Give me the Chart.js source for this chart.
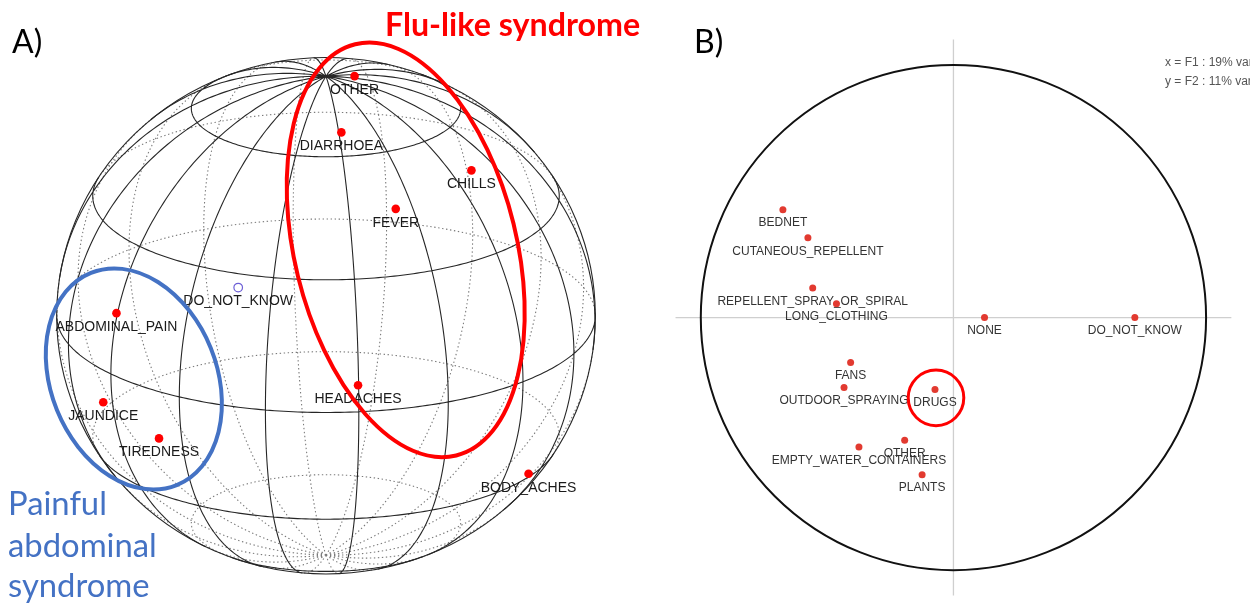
<!DOCTYPE html>
<html>
<head>
<meta charset="utf-8">
<script src="https://cdn.jsdelivr.net/npm/chart.js@4"></script>
<style>
    html, body { margin: 0; padding: 0; background: #fff; }
    #wrap { position: relative; width: 1250px; height: 605px; overflow: hidden; }
    canvas { position: absolute; top: 0; }
    #sphereChart { left: 0; }
    #circleChart { left: 645px; }
</style>
</head>
<body>
<div id="wrap">
    <canvas id="sphereChart" width="645" height="605"></canvas>
    <canvas id="circleChart" width="605" height="605"></canvas>
</div>
<script>
// Panel A: symptoms projected on the sphere (sphere radius = 1)
const symptomLabels = ['OTHER', 'DIARRHOEA', 'CHILLS', 'FEVER', 'DO_NOT_KNOW', 'ABDOMINAL_PAIN', 'JAUNDICE', 'TIREDNESS', 'HEADACHES', 'BODY_ACHES'];
const symptomX = [0.106, 0.057, 0.540, 0.259, -0.326, -0.778, -0.827, -0.620, 0.119, 0.752];
const symptomY = [0.928, 0.710, 0.563, 0.414, 0.109, 0.010, -0.335, -0.475, -0.269, -0.612];
const symptomHollow = [false, false, false, false, true, false, false, false, false, false];

// Panel B: prevention measures on the correlation circle (F1 x F2)
const measureLabels = ['BEDNET', 'CUTANEOUS_REPELLENT', 'REPELLENT_SPRAY_OR_SPIRAL', 'LONG_CLOTHING', 'NONE', 'DO_NOT_KNOW', 'FANS', 'OUTDOOR_SPRAYING', 'DRUGS', 'OTHER', 'EMPTY_WATER_CONTAINERS', 'PLANTS'];
const measureF1 = [-0.675, -0.576, -0.557, -0.463, 0.123, 0.718, -0.407, -0.433, -0.073, -0.193, -0.374, -0.124];
const measureF2 = [0.427, 0.316, 0.117, 0.055, 0.000, 0.000, -0.178, -0.277, -0.285, -0.486, -0.512, -0.622];

// sphere grid: latitudes and longitudes (degrees), tilt of the pole toward the viewer
const gridParallels = [-60, -30, 0, 30, 60];
const gridMeridians = [7, 27, 47, 67, 87, 107, 127, 147, 167, 187, 207, 227, 247, 267, 287, 307, 327, 347];

function fitFont(ctx, text, weight, family, width) {
    ctx.font = weight + ' 100px ' + family;
    const size = 100 * width / ctx.measureText(text).width;
    return weight + ' ' + size.toFixed(1) + 'px ' + family;
}

// wire-frame sphere, front lines solid and back lines dotted
const sphereGrid = {
    id: 'sphereGrid',
    beforeDatasetsDraw(chart, args, opts) {
        const ctx = chart.ctx;
        const xs = chart.scales.x, ys = chart.scales.y;
        const rad = Math.PI / 180;
        const t = opts.tilt * rad;

        function project(lat, lon) {
            const X = Math.cos(lat) * Math.sin(lon);
            const Y = Math.sin(lat);
            const Z = Math.cos(lat) * Math.cos(lon);
            return {
                x: xs.getPixelForValue(X),
                y: ys.getPixelForValue(Y * Math.cos(t) - Z * Math.sin(t)),
                front: Y * Math.sin(t) + Z * Math.cos(t) >= 0
            };
        }

        const curves = [];
        opts.parallels.forEach(lat => {
            const pts = [];
            for (let i = 0; i <= 360; i += 1) pts.push(project(lat * rad, i * rad));
            curves.push(pts);
        });
        opts.meridians.forEach(lon => {
            const pts = [];
            for (let i = -90; i <= 90; i += 1) pts.push(project(i * rad, lon * rad));
            curves.push(pts);
        });

        function strokeSide(front) {
            ctx.beginPath();
            curves.forEach(pts => {
                let pen = false;
                for (let i = 1; i < pts.length; i++) {
                    const a = pts[i - 1], b = pts[i];
                    if (a.front === front) {
                        if (!pen) { ctx.moveTo(a.x, a.y); pen = true; }
                        ctx.lineTo(b.x, b.y);
                    } else {
                        pen = false;
                    }
                }
            });
            ctx.stroke();
        }

        ctx.save();
        ctx.lineWidth = 1.1;
        ctx.strokeStyle = '#7a7a7a';
        ctx.setLineDash([1.4, 2.6]);
        strokeSide(false);
        ctx.setLineDash([]);
        ctx.lineWidth = 1.1;
        ctx.strokeStyle = '#262626';
        strokeSide(true);

        // outline
        const cx = xs.getPixelForValue(0), cy = ys.getPixelForValue(0);
        ctx.beginPath();
        ctx.ellipse(cx, cy, xs.getPixelForValue(1) - cx, cy - ys.getPixelForValue(1), 0, 0, Math.PI * 2);
        ctx.stroke();
        ctx.restore();
    }
};

// unit circle and axes of the correlation plot
const corrCircle = {
    id: 'corrCircle',
    beforeDatasetsDraw(chart, args, opts) {
        const ctx = chart.ctx;
        const xs = chart.scales.x, ys = chart.scales.y;
        const cx = xs.getPixelForValue(0), cy = ys.getPixelForValue(0);
        ctx.save();
        ctx.strokeStyle = '#cfcfcf';
        ctx.lineWidth = 1.3;
        ctx.beginPath();
        ctx.moveTo(cx, ys.getPixelForValue(opts.axisLength));
        ctx.lineTo(cx, ys.getPixelForValue(-opts.axisLength));
        ctx.moveTo(xs.getPixelForValue(-opts.axisLength), cy);
        ctx.lineTo(xs.getPixelForValue(opts.axisLength), cy);
        ctx.stroke();
        ctx.strokeStyle = '#111';
        ctx.lineWidth = 2;
        ctx.beginPath();
        ctx.ellipse(cx, cy, xs.getPixelForValue(1) - cx, cy - ys.getPixelForValue(1), 0, 0, Math.PI * 2);
        ctx.stroke();
        ctx.restore();
    }
};

// text under every point
const pointLabels = {
    id: 'pointLabels',
    afterDatasetsDraw(chart, args, opts) {
        const ctx = chart.ctx;
        const meta = chart.getDatasetMeta(0);
        ctx.save();
        ctx.font = opts.font;
        ctx.fillStyle = opts.color;
        ctx.textAlign = 'center';
        ctx.textBaseline = 'middle';
        meta.data.forEach((pt, i) => {
            ctx.fillText(opts.labels[i], pt.x, pt.y + opts.offset);
        });
        ctx.restore();
    }
};

// hand-drawn group ellipses (centre in data units, radii in x units)
const groupRings = {
    id: 'groupRings',
    afterDraw(chart, args, opts) {
        const ctx = chart.ctx;
        const xs = chart.scales.x, ys = chart.scales.y;
        const unit = xs.getPixelForValue(1) - xs.getPixelForValue(0);
        ctx.save();
        opts.rings.forEach(r => {
            ctx.strokeStyle = r.color;
            ctx.lineWidth = r.width;
            ctx.beginPath();
            ctx.ellipse(xs.getPixelForValue(r.x), ys.getPixelForValue(r.y), r.rx * unit, r.ry * unit, r.rotation * Math.PI / 180, 0, Math.PI * 2);
            ctx.stroke();
        });
        ctx.restore();
    }
};

// panel letters and annotations
const notes = {
    id: 'notes',
    afterDraw(chart, args, opts) {
        const ctx = chart.ctx;
        ctx.save();
        ctx.textAlign = 'left';
        ctx.textBaseline = 'alphabetic';
        opts.items.forEach(n => {
            ctx.font = n.fit ? fitFont(ctx, n.fit, n.weight, n.family, n.width) : n.font;
            ctx.fillStyle = n.color;
            ctx.fillText(n.text, n.x, n.y);
        });
        ctx.restore();
    }
};

const hidden = { type: 'linear', display: false };

// Panel A chart
const sphereChart = new Chart(document.getElementById('sphereChart').getContext('2d'), {
    type: 'scatter',
    data: {
        datasets: [{
            data: symptomX.map((v, i) => ({ x: v, y: symptomY[i] })),
            pointRadius: 4.3,
            pointBackgroundColor: symptomHollow.map(h => h ? 'rgba(0,0,0,0)' : '#ff0000'),
            pointBorderColor: symptomHollow.map(h => h ? '#6d5fd6' : '#ff0000'),
            pointBorderWidth: symptomHollow.map(h => h ? 1.2 : 0)
        }]
    },
    options: {
        responsive: false,
        animation: false,
        layout: { padding: 0 },
        scales: {
            x: { ...hidden, min: -1.190, max: 1.164 },
            y: { ...hidden, min: -1.099, max: 1.2015 }
        },
        plugins: {
            legend: { display: false },
            tooltip: { enabled: false },
            sphereGrid: { tilt: 22, parallels: gridParallels, meridians: gridMeridians },
            pointLabels: { labels: symptomLabels, font: '14px "Liberation Sans", Arial, sans-serif', color: '#1a1a1a', offset: 14 },
            groupRings: {
                rings: [
                    { x: 0.296, y: 0.255, rx: 0.412, ry: 0.786, rotation: -13.8, color: '#ff0000', width: 4 },
                    { x: -0.7135, y: -0.245, rx: 0.308, ry: 0.425, rotation: -22, color: '#4472c4', width: 4 }
                ]
            },
            notes: {
                items: [
                    { text: 'A)', x: 12, y: 53, font: '32px Lato, sans-serif', color: '#000' },
                    { text: 'Flu-like syndrome', x: 385, y: 36, fit: 'Flu-like syndrome', weight: 'bold', family: 'Lato, sans-serif', width: 255, color: '#ff0000' },
                    { text: 'Painful', x: 8, y: 515, fit: 'abdominal', weight: 'normal', family: 'Lato, sans-serif', width: 149, color: '#4472c4' },
                    { text: 'abdominal', x: 8, y: 556.7, fit: 'abdominal', weight: 'normal', family: 'Lato, sans-serif', width: 149, color: '#4472c4' },
                    { text: 'syndrome', x: 8, y: 596.7, fit: 'abdominal', weight: 'normal', family: 'Lato, sans-serif', width: 149, color: '#4472c4' }
                ]
            }
        }
    },
    plugins: [sphereGrid, pointLabels, groupRings, notes]
});

// Panel B chart
const circleChart = new Chart(document.getElementById('circleChart').getContext('2d'), {
    type: 'scatter',
    data: {
        datasets: [{
            data: measureF1.map((v, i) => ({ x: v, y: measureF2[i] })),
            pointRadius: 3.5,
            pointBackgroundColor: '#e23a30',
            pointBorderWidth: 0
        }]
    },
    options: {
        responsive: false,
        animation: false,
        layout: { padding: 0 },
        scales: {
            x: { ...hidden, min: -1.205, max: 1.158 },
            y: { ...hidden, min: -1.122, max: 1.241 }
        },
        plugins: {
            legend: { display: false },
            tooltip: { enabled: false },
            corrCircle: { axisLength: 1.1 },
            pointLabels: { labels: measureLabels, font: '12px "Liberation Sans", Arial, sans-serif', color: '#333', offset: 13.5 },
            groupRings: {
                rings: [
                    { x: -0.069, y: -0.318, rx: 0.110, ry: 0.110, rotation: 0, color: '#ff0000', width: 3 }
                ]
            },
            notes: {
                items: [
                    { text: 'B)', x: 49, y: 53, font: '32px Lato, sans-serif', color: '#000' },
                    { text: 'x = F1 : 19% variance', x: 520, y: 66, font: '12px "Liberation Sans", Arial, sans-serif', color: '#555' },
                    { text: 'y = F2 : 11% variance', x: 520, y: 85, font: '12px "Liberation Sans", Arial, sans-serif', color: '#555' }
                ]
            }
        }
    },
    plugins: [corrCircle, pointLabels, groupRings, notes]
});
</script>
</body>
</html>
